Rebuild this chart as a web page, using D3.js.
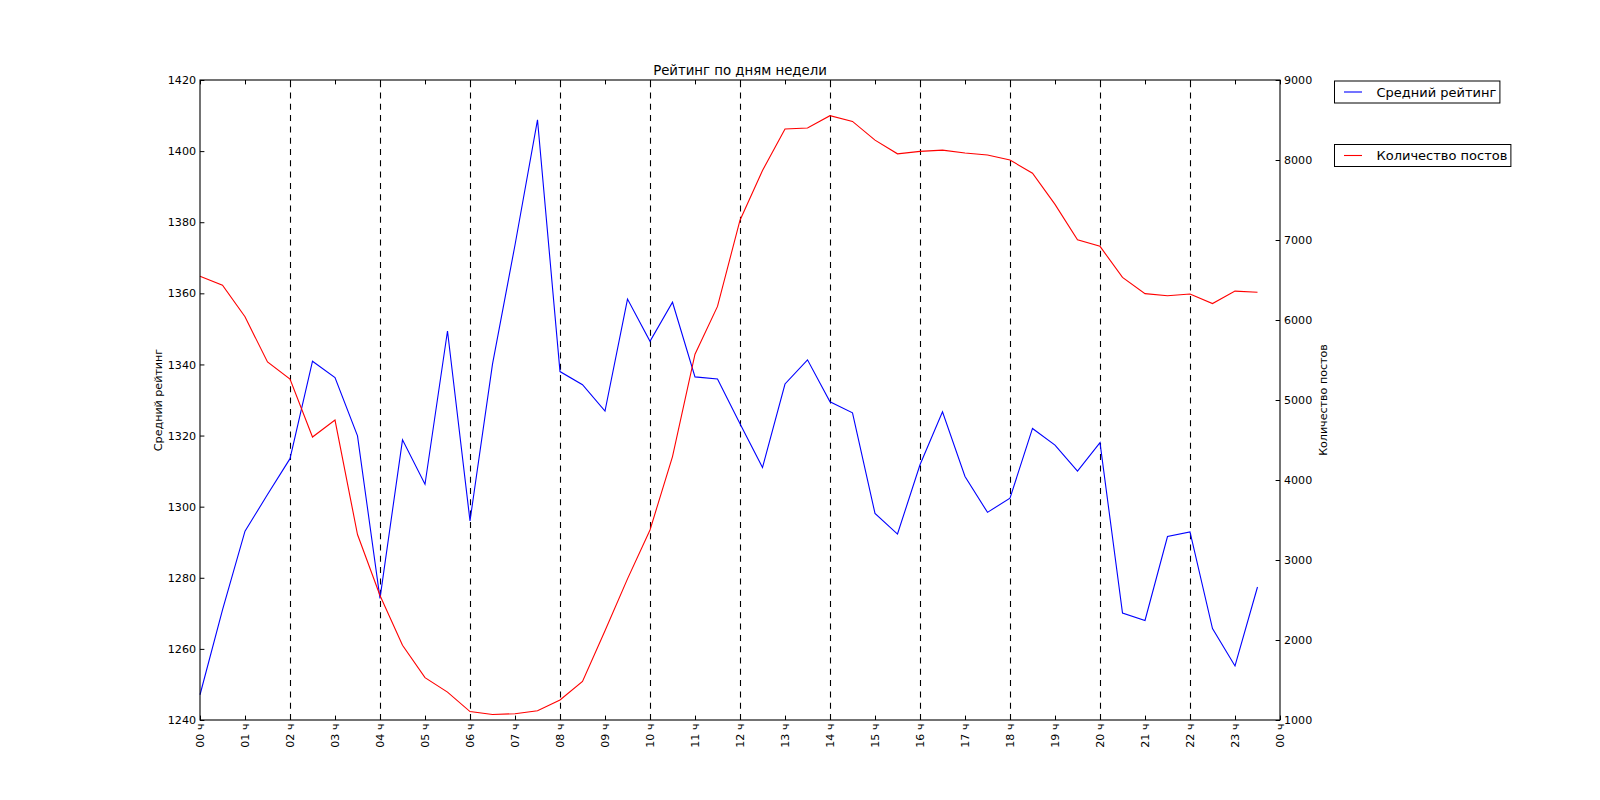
<!DOCTYPE html>
<html>
<head>
<meta charset="utf-8">
<script src="https://cdn.jsdelivr.net/npm/d3@7"></script>
<style>
  html, body { margin: 0; padding: 0; background: #fff; }
  svg { display: block; }
  text { font-family: "DejaVu Sans", sans-serif; fill: #000; }
</style>
</head>
<body>
<svg id="chart" width="1600" height="800"></svg>
<script>
// ---- data ----
const hours = [0, 0.5, 1, 1.5, 2, 2.5, 3, 3.5, 4, 4.5, 5, 5.5, 6, 6.5, 7, 7.5, 8, 8.5, 9, 9.5,
  10, 10.5, 11, 11.5, 12, 12.5, 13, 13.5, 14, 14.5, 15, 15.5, 16, 16.5, 17, 17.5, 18, 18.5,
  19, 19.5, 20, 20.5, 21, 21.5, 22, 22.5, 23, 23.5];
const rating = [1247.1, 1271, 1293.1, 1303.4, 1313.5, 1340.9, 1336.3, 1319.9, 1274.2, 1318.8,
  1306.3, 1349.4, 1296, 1340.1, 1373.6, 1408.8, 1338, 1334.3, 1326.9, 1358.4, 1346.5, 1357.5,
  1336.5, 1335.9, 1323.3, 1311, 1334.5, 1341.3, 1329.5, 1326.4, 1298.1, 1292.3, 1311.8, 1326.7,
  1308.5, 1298.4, 1302.4, 1322, 1317.3, 1310, 1318, 1270.1, 1268, 1291.6, 1292.9, 1265.7,
  1255.2, 1277.4];
const posts = [6548, 6434, 6040, 5475, 5262, 4537, 4749, 3318, 2556, 1934, 1530, 1348, 1105,
  1068, 1079, 1115, 1250, 1483, 2116, 2764, 3375, 4293, 5573, 6170, 7248, 7870, 8388, 8399,
  8554, 8482, 8248, 8077, 8108, 8124, 8088, 8062, 8000, 7834, 7445, 7004, 6921, 6532, 6330,
  6304, 6325, 6206, 6361, 6346];
const xTicks = [0, 1, 2, 3, 4, 5, 6, 7, 8, 9, 10, 11, 12, 13, 14, 15, 16, 17, 18, 19, 20, 21, 22, 23, 24];
const xTickLabels = ["00 ч", "01 ч", "02 ч", "03 ч", "04 ч", "05 ч", "06 ч", "07 ч", "08 ч", "09 ч",
  "10 ч", "11 ч", "12 ч", "13 ч", "14 ч", "15 ч", "16 ч", "17 ч", "18 ч", "19 ч", "20 ч", "21 ч",
  "22 ч", "23 ч", "00 ч"];
const dashedHours = [2, 4, 6, 8, 10, 12, 14, 16, 18, 20, 22];
const leftTicks = [1240, 1260, 1280, 1300, 1320, 1340, 1360, 1380, 1400, 1420];
const rightTicks = [1000, 2000, 3000, 4000, 5000, 6000, 7000, 8000, 9000];
const title = "Рейтинг по дням недели";
const leftLabel = "Средний рейтинг";
const rightLabel = "Количество постов";
const seriesNames = ["Средний рейтинг", "Количество постов"];
const seriesColors = ["#0000ff", "#ff0000"];

// ---- layout ----
const L = 200, R = 1280, T = 80, B = 720;
const svg = d3.select("#chart");

const x = d3.scaleLinear().domain([0, 24]).range([L, R]);
const yL = d3.scaleLinear().domain([1240, 1420]).range([B, T]);
const yR = d3.scaleLinear().domain([1000, 9000]).range([B, T]);

const tickLen = 4.4;

// dashed vertical lines
svg.append("g").selectAll("line").data(dashedHours).join("line")
  .attr("x1", d => Math.round(x(d)) + 0.5).attr("x2", d => Math.round(x(d)) + 0.5)
  .attr("y1", B).attr("y2", T)
  .attr("stroke", "#000").attr("stroke-width", 1.1)
  .attr("stroke-dasharray", "6,5.3");

// series lines
const lineL = d3.line().x((d, i) => x(hours[i])).y(d => yL(d));
const lineR = d3.line().x((d, i) => x(hours[i])).y(d => yR(d));
svg.append("path").datum(rating).attr("d", lineL)
  .attr("fill", "none").attr("stroke", seriesColors[0]).attr("stroke-width", 1.1);
svg.append("path").datum(posts).attr("d", lineR)
  .attr("fill", "none").attr("stroke", seriesColors[1]).attr("stroke-width", 1.1);

// axes (ticks inward)
const fmtX = (d) => xTickLabels[xTicks.indexOf(d)];
const bottomAxis = d3.axisBottom(x).tickValues(xTicks).tickFormat(fmtX).tickSizeInner(-tickLen).tickSizeOuter(0).tickPadding(4);
const gB = svg.append("g").attr("transform", `translate(0,${B})`).call(bottomAxis);
gB.selectAll("text")
  .attr("transform", "rotate(-90)")
  .attr("x", -3.5).attr("y", 0).attr("dy", "0.35em")
  .style("text-anchor", "end");

const topAxis = d3.axisTop(x).tickValues(xTicks).tickFormat("").tickSizeInner(-tickLen).tickSizeOuter(0);
svg.append("g").attr("transform", `translate(0,${T})`).call(topAxis);

const leftAxis = d3.axisLeft(yL).tickValues(leftTicks).tickFormat(d3.format("d")).tickSizeInner(-tickLen).tickSizeOuter(0).tickPadding(4);
svg.append("g").attr("transform", `translate(${L},0)`).call(leftAxis);

const rightAxis = d3.axisRight(yR).tickValues(rightTicks).tickFormat(d3.format("d")).tickSizeInner(-tickLen).tickSizeOuter(0).tickPadding(4);
svg.append("g").attr("transform", `translate(${R},0)`).call(rightAxis);

svg.selectAll(".tick text").style("font-size", "11.1px").style("font-family", "DejaVu Sans");
svg.selectAll(".domain").remove();
svg.selectAll(".tick line").attr("stroke", "#000").attr("stroke-width", 1);

// spines
svg.append("rect").attr("x", L).attr("y", T).attr("width", R - L).attr("height", B - T)
  .attr("fill", "none").attr("stroke", "#000").attr("stroke-width", 1.1);

// title and axis labels
svg.append("text").attr("x", (L + R) / 2).attr("y", 75).attr("text-anchor", "middle")
  .style("font-size", "13.3px").text(title);
svg.append("text").attr("transform", `translate(158,${(T + B) / 2}) rotate(-90)`)
  .attr("text-anchor", "middle").attr("dy", "0.35em").style("font-size", "11.1px").text(leftLabel);
svg.append("text").attr("transform", `translate(1323,${(T + B) / 2}) rotate(-90)`)
  .attr("text-anchor", "middle").attr("dy", "0.35em").style("font-size", "11.1px").text(rightLabel);

// legends (two separate boxes)
const legendTops = [80.5, 144];
seriesNames.forEach((name, i) => {
  const g = svg.append("g");
  const top = legendTops[i], h = 22, left = 1334;
  const rect = g.append("rect").attr("x", left + 0.5).attr("y", top + 0.5).attr("height", h)
    .attr("fill", "#fff").attr("stroke", "#000").attr("stroke-width", 1);
  g.append("line").attr("x1", 1344).attr("x2", 1362).attr("y1", top + h / 2 + 0.5).attr("y2", top + h / 2 + 0.5)
    .attr("stroke", seriesColors[i]).attr("stroke-width", 1.1);
  const t = g.append("text").attr("x", 1376.5).attr("y", top + h / 2 + 0.5).attr("dy", "0.36em")
    .style("font-size", "13px").text(name);
  const w = t.node().getComputedTextLength();
  rect.attr("width", 1376.5 - left + w + 3);
});
</script>
</body>
</html>
